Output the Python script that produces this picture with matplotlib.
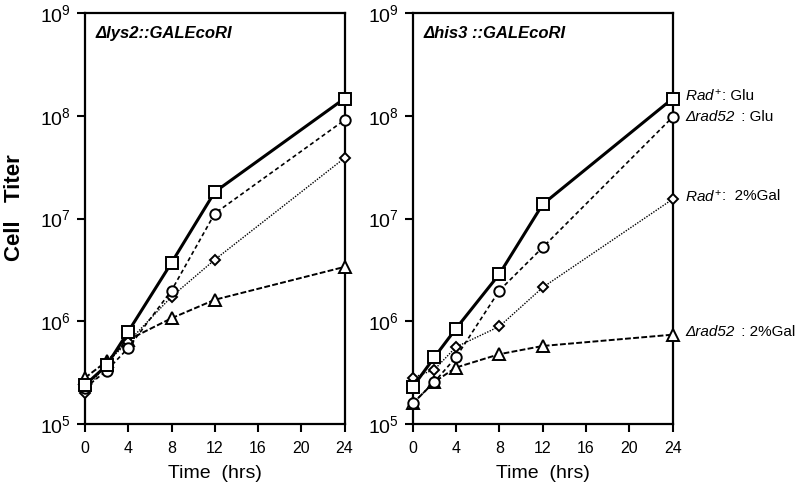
import numpy as np
import matplotlib
matplotlib.use("Agg")
import matplotlib.pyplot as plt
from matplotlib.ticker import FixedLocator, FixedFormatter

plt.rcParams['font.family'] = ['Liberation Sans', 'DejaVu Sans']
plt.rcParams['mathtext.fontset'] = 'custom'
plt.rcParams['mathtext.rm'] = 'Liberation Sans'
plt.rcParams['mathtext.it'] = 'Liberation Sans:italic'
plt.rcParams['mathtext.bf'] = 'Liberation Sans:bold'

time = [0, 2, 4, 8, 12, 24]

# log10 cell titer values
lys2_rad_glu = [5.38, 5.57, 5.90, 6.57, 7.26, 8.17]
lys2_d52_glu = [5.35, 5.52, 5.74, 6.30, 7.05, 7.96]
lys2_rad_gal = [5.30, 5.60, 5.80, 6.24, 6.60, 7.59]
lys2_d52_gal = [5.45, 5.61, 5.82, 6.03, 6.21, 6.53]

his3_rad_glu = [5.36, 5.65, 5.93, 6.46, 7.14, 8.17]
his3_d52_glu = [5.20, 5.41, 5.65, 6.30, 6.72, 7.99]
his3_rad_gal = [5.45, 5.53, 5.75, 5.95, 6.33, 7.19]
his3_d52_gal = [5.20, 5.41, 5.55, 5.68, 5.76, 5.87]

panel_titles = ["Δlys2::GALEcoRI", "Δhis3 ::GALEcoRI"]
label_genotype = [r"$\mathit{Rad}^{+}$", "Δrad52", r"$\mathit{Rad}^{+}$", "Δrad52"]
label_medium = [": Glu", " : Glu", ":  2%Gal", " : 2%Gal"]
xticks = [0, 4, 8, 12, 16, 20, 24]
yticks = [5, 6, 7, 8, 9]

styles = [
    dict(marker='s', ms=9, lw=2.2, ls='-'),
    dict(marker='o', ms=7.5, lw=1.2, ls=(0, (2.5, 1.8))),
    dict(marker='D', ms=5.5, lw=1.0, ls=(0, (1, 1))),
    dict(marker='^', ms=8, lw=1.4, ls=(0, (3, 1.2))),
]

fig = plt.figure(figsize=(8, 4.92), dpi=100)
axes_pos = [[85/800, 1-424/492, (344.5-85)/800, (424-13.3)/492],
            [412.7/800, 1-424/492, (672.7-412.7)/800, (424-13.3)/492]]

data = [[lys2_rad_glu, lys2_d52_glu, lys2_rad_gal, lys2_d52_gal],
        [his3_rad_glu, his3_d52_glu, his3_rad_gal, his3_d52_gal]]

for p in range(2):
    ax = fig.add_axes(axes_pos[p])
    ax.set_yscale('log')
    ax.set_xlim(0, 24)
    ax.set_ylim(1e5, 1e9)
    for k in (3, 2, 1, 0):
        st = styles[k]
        ax.plot(time, 10**np.array(data[p][k]), color='black', linestyle=st['ls'],
                linewidth=st['lw'], marker=st['marker'], markersize=st['ms'],
                markerfacecolor='white', markeredgecolor='black', markeredgewidth=1.4,
                clip_on=False, zorder=3 + (3 - k))
    ax.yaxis.set_major_locator(FixedLocator([10.0**v for v in yticks]))
    ax.yaxis.set_major_formatter(FixedFormatter([r"$10^{%d}$" % v for v in yticks]))
    ax.yaxis.set_minor_locator(FixedLocator([]))
    ax.set_xticks(xticks)
    ax.set_xticklabels([str(v) for v in xticks])
    ax.tick_params(axis='both', direction='out', length=6, width=1.5, color='black')
    ax.tick_params(axis='y', labelsize=14, pad=4)
    ax.tick_params(axis='x', labelsize=11.5, pad=6)
    for s in ax.spines.values():
        s.set_linewidth(1.6)
    ax.set_xlabel("Time  (hrs)", fontsize=14, labelpad=7)
    ax.text(0.04, 0.952, panel_titles[p], transform=ax.transAxes, fontsize=12,
            fontweight='bold', fontstyle='italic', va='center', ha='left')
    if p == 1:
        for k in range(4):
            t1 = ax.annotate(label_genotype[k], xy=(24, 10**data[p][k][-1]),
                             xytext=(9, 2 if k != 1 else 0), textcoords='offset points',
                             fontsize=11, fontstyle='italic', va='center', ha='left',
                             annotation_clip=False)
            ax.annotate(label_medium[k], xy=(1, 0.5), xycoords=t1,
                        xytext=(2 if k in (1, 3) else 0, 0), textcoords='offset points',
                        fontsize=11, va='center', ha='left', annotation_clip=False)

fig.text(15/800, 1-208/492, "Cell   Titer", rotation=90, fontsize=16,
         fontweight='bold', ha='center', va='center')

fig.savefig("out.png", dpi=100)
